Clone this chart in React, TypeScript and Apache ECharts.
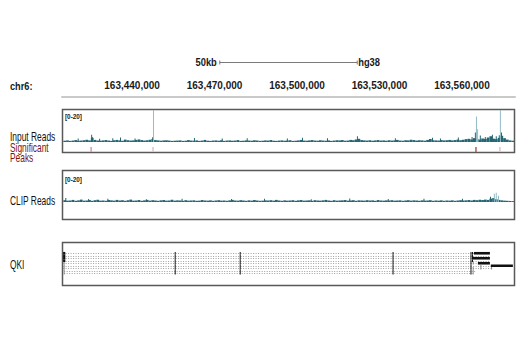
import React, { useEffect, useRef } from 'react';
import * as echarts from 'echarts';

// ---- view / ruler ----
const CHROM = 'chr6:';
const VIEW_START = 163414500;
const VIEW_END = 163579300;
const RULER_TICKS = [163440000, 163470000, 163500000, 163530000, 163560000];
const SCALE_BAR_BP = 50000;
const SCALE_BAR_LABEL = '50kb';
const GENOME = 'hg38';
const TRACK_RANGE = '[0-20]';
const COVERAGE_MAX = 20;

// ---- coverage baselines (1 kb bins starting at BIN_START) ----
const BIN_START = 163415000;
const BIN_SIZE = 1000;
const INPUT_BINS = [
  0.8, 1.0, 0.7, 0.9, 1.2, 0.8, 0.9, 1.1, 1.4, 1.0, 2.6, 1.3, 0.9, 0.8, 1.0, 1.2, 0.9, 0.7, 1.1, 1.3,
  1.0, 0.8, 1.5, 1.1, 0.9, 1.0, 1.3, 1.6, 1.2, 0.9, 1.1, 1.4, 1.8, 1.2, 1.0, 0.8, 1.0, 1.1, 0.9, 0.7,
  0.8, 0.9, 1.0, 0.7, 0.8, 1.2, 0.9, 0.8, 1.0, 0.7, 0.9, 1.3, 0.8, 0.7, 0.9, 1.0, 0.8, 1.1, 0.7, 0.9,
  1.0, 0.8, 0.9, 1.2, 0.7, 0.8, 1.0, 0.9, 0.8, 1.1, 0.9, 0.7, 0.8, 1.0, 0.9, 1.2, 0.8, 0.7, 0.9, 1.0,
  0.8, 0.9, 1.1, 0.7, 0.8, 1.0, 1.3, 0.9, 0.8, 1.0, 1.2, 0.9, 0.8, 1.1, 0.9, 0.8, 1.0, 0.7, 0.9, 1.1,
  1.0, 1.2, 0.8, 0.9, 1.3, 1.1, 1.6, 2.0, 1.2, 1.0, 0.9, 1.1, 0.8, 1.0, 1.2, 0.9, 1.0, 0.8, 1.1, 0.9,
  1.0, 1.3, 0.9, 0.8, 1.1, 1.0, 1.4, 1.2, 0.9, 1.1, 1.0, 0.8, 1.3, 1.9, 1.1, 1.0, 0.9, 1.2, 1.0, 1.1,
  1.3, 1.0, 1.2, 1.5, 1.1, 1.4, 1.8, 2.0, 1.6, 2.4, 1.8, 1.5, 2.2, 1.9, 2.8, 3.6, 2.1, 1.8, 2.6, 3.9,
  2.4, 1.5, 1.0, 0.8,
];
const CLIP_BINS = [
  1.2, 0.9, 1.0, 1.4, 0.8, 1.1, 1.6, 0.9, 1.0, 1.3, 0.8, 1.2, 1.5, 0.9, 1.0, 0.8, 1.3, 1.1, 0.9, 1.4,
  1.0, 1.2, 0.8, 1.1, 1.6, 0.9, 1.0, 1.3, 0.8, 1.1, 1.4, 0.9, 1.2, 1.0, 0.8, 1.1, 1.3, 0.9, 1.0, 1.5,
  0.9, 1.1, 1.0, 0.8, 1.2, 0.9, 1.0, 1.1, 0.8, 0.9, 1.3, 1.0, 0.9, 1.1, 0.8, 1.0, 1.2, 0.9, 1.0, 0.8,
  1.1, 1.4, 1.0, 0.9, 1.2, 1.0, 0.8, 1.1, 0.9, 1.3, 1.0, 0.8, 0.9, 1.1, 1.0, 1.2, 0.9, 1.4, 1.0, 0.8,
  1.1, 0.9, 1.0, 1.2, 0.8, 1.1, 1.3, 0.9, 1.0, 1.1, 0.8, 1.2, 1.0, 0.9, 1.1, 1.4, 1.0, 0.8, 1.2, 0.9,
  1.0, 1.1, 1.3, 0.9, 1.0, 1.2, 0.8, 1.1, 1.0, 0.9, 1.2, 1.0, 1.1, 0.8, 1.3, 1.0, 0.9, 1.1, 1.0, 1.2,
  0.9, 1.0, 1.1, 0.8, 1.0, 1.2, 0.9, 1.1, 1.0, 0.8, 1.1, 0.9, 1.0, 1.2, 0.8, 1.0, 0.9, 1.1, 0.8, 1.0,
  0.9, 1.1, 0.8, 1.0, 1.2, 1.0, 1.1, 1.3, 1.0, 1.4, 1.2, 1.5, 1.3, 1.6, 1.4, 2.2, 2.6, 1.8, 1.4, 1.1,
  0.9, 0.8, 0.7, 0.6,
];

// ---- narrow spikes (bp position, value) ----
const INPUT_SPIKE_POS = [
  163420200, 163425100, 163425400, 163428000, 163432800, 163435600, 163440900, 163447300, 163447600,
  163462500, 163472600, 163481700, 163496300, 163501800, 163510900, 163521800, 163535600, 163549100,
  163552000, 163558500, 163563500, 163564700, 163565100, 163565500, 163566500, 163568300, 163570900,
  163572300, 163573400, 163573800, 163574200,
];
const INPUT_SPIKE_VAL = [
  2.2, 4.5, 3.0, 2.0, 2.4, 2.8, 2.2, 3.0, 20, 2.5, 2.2, 2.4, 2.2, 2.6, 2.3, 3.6, 2.4, 2.6, 2.2, 2.8,
  3.2, 6.0, 16, 8.0, 4.0, 3.2, 4.6, 3.6, 4.2, 20, 6.0,
];
const CLIP_SPIKE_POS = [
  163415700, 163424000, 163431000, 163445000, 163458000, 163476000, 163488000, 163505000, 163519000,
  163533000, 163546000, 163560000, 163570200, 163571600, 163572300, 163573100,
];
const CLIP_SPIKE_VAL = [2.6, 2.0, 2.2, 1.9, 2.1, 2.0, 2.2, 1.9, 2.3, 2.0, 2.1, 2.2, 3.5, 5.5, 6.2, 4.2];

// ---- significant peaks ----
const PEAK_POS = [163425100, 163447600, 163565100, 163573800];
const PEAK_SCORE = [0.5, 0.3, 1.0, 0.3];

// ---- QKI gene model: [row, start, end] and [row, start, end, kind] ----
const QKI_TRANSCRIPTS = [
  [0, 163414900, 163570170],
  [1, 163414900, 163570170],
  [2, 163414900, 163570170],
  [3, 163414900, 163570170],
  [4, 163414900, 163570170],
  [5, 163414900, 163578530],
  [6, 163414900, 163570900],
  [7, 163415300, 163564800],
  [8, 163415300, 163563900],
];
const QKI_SHARED_EXONS = [
  [163455500, 163455850],
  [163479150, 163479500],
  [163534750, 163535100],
  [163563100, 163563350],
];
const QKI_EXONS = [
  [0, 163414900, 163415700, 1],
  [1, 163414900, 163415700, 1],
  [2, 163414900, 163415700, 1],
  [3, 163414900, 163415700, 1],
  [4, 163415100, 163415450, 3],
  [5, 163415100, 163415450, 3],
  [6, 163415100, 163415450, 3],
  [7, 163415100, 163415450, 3],
  [8, 163415100, 163415450, 3],
  [0, 163563650, 163563950, 1],
  [1, 163563650, 163563950, 1],
  [3, 163563650, 163563950, 1],
  [4, 163563900, 163564150, 3],
  [6, 163563900, 163564150, 3],
  [7, 163563900, 163564150, 3],
  [8, 163563900, 163564150, 3],
  [0, 163564350, 163570170, 1],
  [2, 163563650, 163570170, 1],
  [4, 163565800, 163570170, 1],
  [5, 163570500, 163578530, 1],
  [5, 163566700, 163566950, 3],
  [6, 163566700, 163566950, 3],
  [6, 163570600, 163570850, 3],
];
const QKI_ROWS = 9;

const FONT = "'Liberation Sans', Arial, sans-serif";
const NARROW = 0.7;
const DARK_TEAL = '#246673';
const PALE_TEAL = '#93bcc6';

function buildCoverage(bins: number[], spikePos: number[], spikeVal: number[]) {
  const data: number[][] = bins.map((v, i) => [BIN_START + i * BIN_SIZE, BIN_START + (i + 1) * BIN_SIZE, v]);
  spikePos.forEach((p, i) => data.push([p, p + 250, spikeVal[i]]));
  return data;
}

function coverageItem(paleAbove: number) {
  return (params: any, api: any) => {
    const v = api.value(2);
    const s = api.coord([api.value(0), 0]);
    const e = api.coord([api.value(1), v]);
    const w = Math.max(1, e[0] - s[0]);
    return {
      type: 'rect',
      shape: { x: s[0], y: e[1], width: w, height: s[1] - e[1] },
      style: { fill: v > paleAbove ? PALE_TEAL : DARK_TEAL },
    };
  };
}

export default function App() {
  const ref = useRef<HTMLDivElement>(null);
  useEffect(() => {
    document.body.style.margin = '0';
    const chart = echarts.init(ref.current!, null, { renderer: 'svg' });

    const center = (VIEW_START + VIEW_END) / 2;
    const scaleData = [[center - SCALE_BAR_BP / 2, center + SCALE_BAR_BP / 2]];
    const inputData = buildCoverage(INPUT_BINS, INPUT_SPIKE_POS, INPUT_SPIKE_VAL);
    const clipData = buildCoverage(CLIP_BINS, CLIP_SPIKE_POS, CLIP_SPIKE_VAL);
    const peakData = PEAK_POS.map((p, i) => [p, PEAK_SCORE[i]]);
    const exonData: number[][] = [];
    for (let r = 0; r < QKI_ROWS; r++) QKI_SHARED_EXONS.forEach(([s, e]) => exonData.push([r, s, e, 1]));
    QKI_EXONS.forEach((x) => exonData.push(x));

    const grids = [
      { left: 62, right: 5, top: 55, height: 14 },
      { left: 62, right: 5, top: 96, height: 1 },
      { left: 62, right: 5, top: 110, height: 32 },
      { left: 62, right: 5, top: 147, height: 5 },
      { left: 62, right: 5, top: 172, height: 30 },
      { left: 62, right: 5, top: 252, height: 22.5 },
    ];
    const xAxes = grids.map((_, i) => ({
      type: 'value', gridIndex: i, min: VIEW_START, max: VIEW_END, show: false,
    })) as any[];
    xAxes[1] = {
      type: 'value', gridIndex: 1, min: VIEW_START, max: VIEW_END, position: 'top',
      axisLine: { show: true, lineStyle: { color: '#c9c9c9', width: 2 } },
      axisTick: { show: false },
      splitLine: { show: false },
      axisLabel: {
        customValues: RULER_TICKS,
        formatter: (v: number) => v.toLocaleString('en-US'),
        color: '#1a1a1a', fontSize: 10, fontWeight: 'bold', fontFamily: FONT, margin: 6,
      },
    };
    const yAxes = [
      { type: 'value', gridIndex: 0, min: 0, max: 1, show: false },
      { type: 'value', gridIndex: 1, min: 0, max: 1, show: false },
      { type: 'value', gridIndex: 2, min: 0, max: COVERAGE_MAX, show: false },
      { type: 'value', gridIndex: 3, min: 0, max: 1, show: false },
      { type: 'value', gridIndex: 4, min: 0, max: COVERAGE_MAX, show: false },
      { type: 'value', gridIndex: 5, min: -0.5, max: QKI_ROWS - 0.5, inverse: true, show: false },
    ];

    const label = (text: string, x: number, y: number, fill = '#1a1a1a', size = 12, weight = 'normal', sx = NARROW) => ({
      type: 'text', x, y, scaleX: sx, silent: true,
      style: { text, fill, font: `${weight} ${size}px ${FONT}`, verticalAlign: 'middle', align: 'left' },
    });
    const box = (y: number, h: number) => ({
      type: 'rect', silent: true,
      shape: { x: 62.5, y: y + 0.5, width: 452, height: h },
      style: { fill: 'none', stroke: '#595959', lineWidth: 1.5 },
    });

    chart.setOption({
      animation: false,
      backgroundColor: '#ffffff',
      grid: grids,
      xAxis: xAxes,
      yAxis: yAxes,
      graphic: [
        box(109, 43),
        box(170, 49),
        box(242, 43),
        label(CHROM, 10, 86, '#1a1a1a', 11.5, 'bold', 0.8),
        label('Input Reads', 10, 137, '#111111'),
        label('Significant', 10, 148, '#7b1416'),
        label('Peaks', 10, 158, '#7b1416'),
        label('CLIP Reads', 10, 201, '#111111'),
        label('QKI', 10, 265, '#111111'),
        label(TRACK_RANGE, 65, 116, '#1a1a1a', 7.5, 'bold', 0.85),
        label(TRACK_RANGE, 65, 179, '#1a1a1a', 7.5, 'bold', 0.85),
      ],
      series: [
        {
          type: 'custom', xAxisIndex: 0, yAxisIndex: 0, data: scaleData, encode: { x: [0, 1] },
          renderItem: (params: any, api: any) => {
            const s = api.coord([api.value(0), 0.5]);
            const e = api.coord([api.value(1), 0.5]);
            const y = Math.round(s[1]) + 0.5;
            const ln = { stroke: '#7a7a7a', lineWidth: 1 };
            return {
              type: 'group',
              children: [
                { type: 'line', shape: { x1: s[0], y1: y, x2: e[0], y2: y }, style: ln },
                { type: 'line', shape: { x1: s[0], y1: y - 2, x2: s[0], y2: y + 2 }, style: ln },
                { type: 'line', shape: { x1: e[0], y1: y - 2, x2: e[0], y2: y + 2 }, style: ln },
                { type: 'text', x: s[0] - 3, y, scaleX: 0.85, style: { text: SCALE_BAR_LABEL, align: 'right', verticalAlign: 'middle', fill: '#1a1a1a', font: `bold 11px ${FONT}` } },
                { type: 'text', x: e[0] + 1, y, scaleX: 0.85, style: { text: GENOME, align: 'left', verticalAlign: 'middle', fill: '#1a1a1a', font: `bold 11px ${FONT}` } },
              ],
            };
          },
        },
        {
          type: 'custom', xAxisIndex: 2, yAxisIndex: 2, data: inputData, encode: { x: [0, 1], y: 2 },
          renderItem: coverageItem(6),
        },
        {
          type: 'custom', xAxisIndex: 3, yAxisIndex: 3, data: peakData, encode: { x: 0 },
          renderItem: (params: any, api: any) => {
            const sc = api.value(1);
            const top = api.coord([api.value(0), 1]);
            const bot = api.coord([api.value(0), 0]);
            const fill = sc >= 0.8 ? '#b25a5a' : sc >= 0.45 ? '#d69c9c' : '#e8c0c0';
            return { type: 'rect', shape: { x: top[0] - 0.75, y: top[1], width: 1.5, height: bot[1] - top[1] }, style: { fill } };
          },
        },
        {
          type: 'custom', xAxisIndex: 4, yAxisIndex: 4, data: clipData, encode: { x: [0, 1], y: 2 },
          renderItem: coverageItem(3.8),
        },
        {
          type: 'custom', xAxisIndex: 5, yAxisIndex: 5, data: QKI_TRANSCRIPTS, encode: { x: [1, 2], y: 0 },
          renderItem: (params: any, api: any) => {
            const s = api.coord([api.value(1), api.value(0)]);
            const e = api.coord([api.value(2), api.value(0)]);
            const y = Math.round(s[1]) + 0.5;
            return {
              type: 'line',
              shape: { x1: s[0], y1: y, x2: e[0], y2: y },
              style: { stroke: '#a0a0a0', lineWidth: 1, lineDash: [1, 1.5] },
            };
          },
        },
        {
          type: 'custom', xAxisIndex: 5, yAxisIndex: 5, data: exonData, encode: { x: [1, 2], y: 0 },
          renderItem: (params: any, api: any) => {
            const kind = api.value(3);
            const s = api.coord([api.value(1), api.value(0)]);
            const e = api.coord([api.value(2), api.value(0)]);
            const h = kind === 2 ? 1.4 : 2.6;
            const w = Math.max(1, e[0] - s[0]);
            return {
              type: 'rect',
              shape: { x: s[0], y: s[1] - h / 2, width: w, height: h },
              style: { fill: kind === 3 ? '#8a8a8a' : '#111111' },
            };
          },
        },
      ],
    });
    return () => chart.dispose();
  }, []);
  return <div ref={ref} style={{ width: 520, height: 350, background: '#fff' }} />;
}
